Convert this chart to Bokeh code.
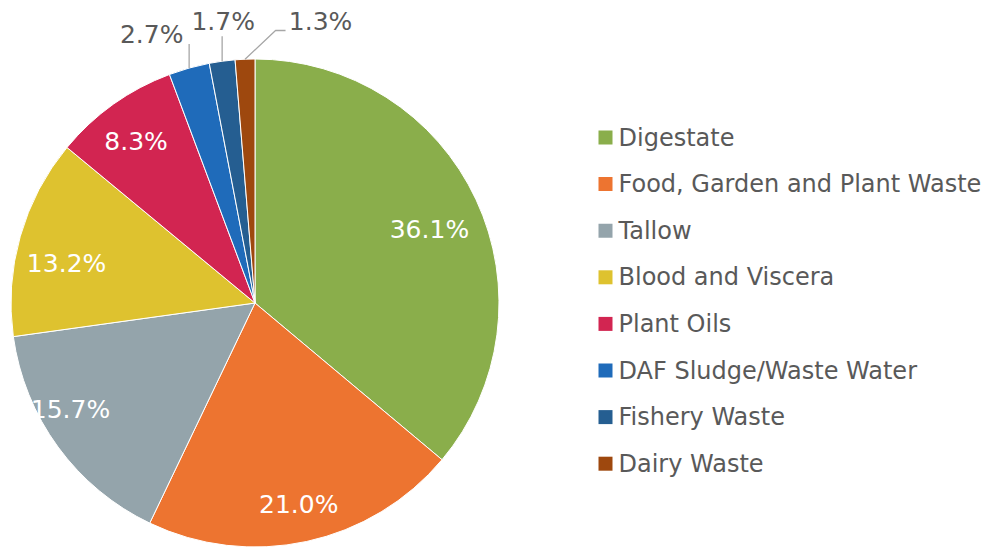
import math
from bokeh.plotting import figure
from bokeh.models import Range1d, ColumnDataSource
from bokeh.core.properties import value
from bokeh.embed import file_html
from bokeh.resources import INLINE

# ---- data ----
categories = ["Digestate", "Food, Garden and Plant Waste", "Tallow", "Blood and Viscera",
              "Plant Oils", "DAF Sludge/Waste Water", "Fishery Waste", "Dairy Waste"]
shares = [36.1, 21.0, 15.7, 13.2, 8.3, 2.7, 1.7, 1.3]
colors = ["#8AAE4B", "#ED7430", "#94A4AB", "#DEC22F", "#D22551", "#1F6BBA", "#255E91", "#9E480E"]

# ---- layout (pixels) ----
W, H = 989, 547
CX, CY, R = 254.5, 244.5, 244.0
FONT = "DejaVu Sans"
FS_LAB = "25px"
FS_LEG = "24px"
TXT = "#595959"

# inside-label placement: fraction of radius and angular nudge (deg, clockwise)
inside_r = [0.775, 0.845, 0.873, 0.789, 0.822]
inside_nudge = [2.3, 0.0, 6.2, -4.0, -0.9]
# outside labels: leader points as offsets from slice edge (x right, y up), label centre offset from leader end
outside_leader = [[(0, 24)], [(0, 25)], [(30.5, 28.7), (40.5, 28.7)]]
outside_text = [(-37.5, 10), (1, 14.7), (35, 8.7)]

p = figure(width=W, height=H, output_backend="svg", toolbar_location=None,
           x_range=Range1d(0, W), y_range=Range1d(0, H), min_border=0)
p.axis.visible = False
p.grid.visible = False
p.outline_line_color = None
p.background_fill_color = "white"

total = sum(shares)
starts, ends, mids = [], [], []
cum = 0.0
for s in shares:
    a0 = cum / total
    cum += s
    a1 = cum / total
    starts.append(math.pi / 2 - 2 * math.pi * a1)
    ends.append(math.pi / 2 - 2 * math.pi * a0)
    mids.append((a0 + a1) / 2 * 360.0)  # degrees clockwise from top

src = ColumnDataSource(dict(x=[CX] * len(shares), y=[CY] * len(shares),
                            start=starts, end=ends, color=colors))
p.wedge(x="x", y="y", radius=R, start_angle="start", end_angle="end", direction="anticlock",
        fill_color="color", line_color="white", line_width=1, source=src)

labels = [f"{s:.1f}%" for s in shares]

# inside labels
ix, iy, it = [], [], []
for i in range(5):
    ang = math.radians(mids[i] + inside_nudge[i])
    r = inside_r[i] * R
    ix.append(CX + r * math.sin(ang))
    iy.append(CY + r * math.cos(ang))
    it.append(labels[i])
p.text(x=ix, y=iy, text=it, text_color="white", text_font=value(FONT), text_font_size=FS_LAB,
       text_align="center", text_baseline="middle")

# outside labels with leader lines
ox, oy, ot = [], [], []
for k, i in enumerate(range(5, 8)):
    ang = math.radians(mids[i])
    ex = CX + R * math.sin(ang)
    ey = CY + R * math.cos(ang)
    xs = [ex] + [ex + dx for dx, dy in outside_leader[k]]
    ys = [ey] + [ey + dy for dx, dy in outside_leader[k]]
    p.line(xs, ys, line_color="#A6A6A6", line_width=1.3)
    tx, ty = outside_text[k]
    ox.append(xs[-1] + tx)
    oy.append(ys[-1] + ty)
    ot.append(labels[i])
p.text(x=ox, y=oy, text=ot, text_color=TXT, text_font=value(FONT), text_font_size=FS_LAB,
       text_align="center", text_baseline="middle")

# legend
LX, LY0, LDY, SQ = 605, 410, 46.6, 14
lx = [LX] * len(categories)
ly = [LY0 - i * LDY for i in range(len(categories))]
p.rect(x=lx, y=ly, width=SQ, height=SQ, fill_color=colors, line_color=None)
p.text(x=[LX + 13] * len(categories), y=ly, text=categories, text_color=TXT,
       text_font=value(FONT), text_font_size=FS_LEG, text_align="left", text_baseline="middle")

open("out.html", "w").write(file_html(p, INLINE))
